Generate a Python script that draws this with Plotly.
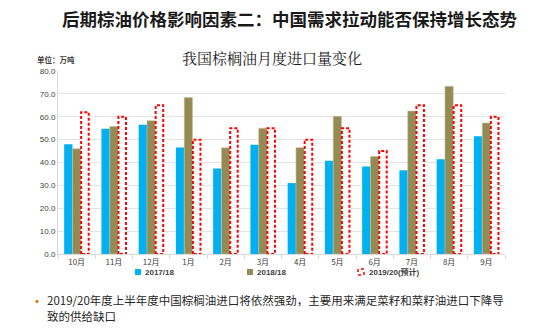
import plotly.graph_objects as go

months = ["10月", "11月", "12月", "1月", "2月", "3月", "4月", "5月", "6月", "7月", "8月", "9月"]
s2017 = [48.0, 54.7, 56.5, 46.6, 37.4, 47.8, 31.0, 40.8, 38.3, 36.6, 41.4, 51.5]
s2018 = [46.0, 55.7, 58.3, 68.4, 46.4, 55.0, 46.5, 60.2, 42.6, 62.5, 73.3, 57.3]
s2019 = [62.0, 60.0, 65.0, 50.0, 55.0, 55.0, 50.0, 55.0, 45.0, 65.0, 65.0, 60.0]
names = ["2017/18", "2018/18", "2019/20(预计)"]

BLUE = "#00B0F0"
OLIVE = "#948A54"
RED = "#FF0000"
W = 0.223
xs = list(range(len(months)))

fig = go.Figure()
fig.add_trace(go.Bar(x=xs, y=s2017, name=names[0], width=W, offset=-1.5 * W,
                     marker=dict(color=BLUE, line=dict(width=0)), showlegend=False))
fig.add_trace(go.Bar(x=xs, y=s2018, name=names[1], width=W, offset=-0.5 * W,
                     marker=dict(color=OLIVE, line=dict(color="#C9C2A0", width=0.6)), showlegend=False))

# dashed-outline bars for the forecast series
px, py = [], []
for i, v in zip(xs, s2019):
    x0, x1 = i + 0.5 * W + 0.01, i + 1.5 * W - 0.01
    px += [x0, x0, x1, x1, x0, None]
    py += [0, v, v, 0, 0, None]
fig.add_trace(go.Scatter(x=px, y=py, mode="lines", name=names[2], fill="toself",
                         fillcolor="white", line=dict(color=RED, width=2, dash="3px,2px"),
                         showlegend=False, hoverinfo="skip"))

fig.update_layout(
    width=550, height=332,
    margin=dict(l=58, r=45, t=71, b=78),
    paper_bgcolor="white", plot_bgcolor="white",
    barmode="overlay",
    font=dict(family="Noto Sans CJK SC, Liberation Sans, sans-serif", color="#404040"),
    xaxis=dict(range=[-0.5, 11.5], tickmode="array", tickvals=xs, ticktext=months,
               showgrid=False, zeroline=False, showline=True, linecolor="#D9D9D9", linewidth=1,
               ticks="", tickfont=dict(size=8, color="#404040"),
               minor=dict(tick0=0.5, dtick=1, ticks="outside", ticklen=4, tickcolor="#D9D9D9")),
    yaxis=dict(range=[0, 80], dtick=10, tickformat=".1f", showgrid=True, gridcolor="#E3E3E3",
               gridwidth=1, zeroline=False, showline=True, linecolor="#D9D9D9", linewidth=1,
               tickfont=dict(size=8, color="#404040", family="Liberation Sans, sans-serif"),
               ticklen=0, ticks=""),
)

ann = []
ann.append(dict(text="<b>后期棕油价格影响因素二：中国需求拉动能否保持增长态势</b>", x=60, y=19,
                font=dict(size=17.5, color="#1a1a1a")))
ann.append(dict(text="我国棕榈油月度进口量变化", x=272, y=58,
                font=dict(size=15, color="#1a1a1a", family="Noto Serif CJK SC, Noto Sans CJK SC, serif"),
                xanchor="center"))
ann.append(dict(text="<b>单位：万吨</b>", x=35, y=60, font=dict(size=7.5, color="#404040")))
ann.append(dict(text="•", x=28, y=300, font=dict(size=14, color="#E46C0A")))
ann.append(dict(text="2019/20年度上半年度中国棕榈油进口将依然强劲，主要用来满足菜籽和菜籽油进口下降导",
                x=45, y=300, font=dict(size=11.5, color="#262626")))
ann.append(dict(text="致的供给缺口",
                x=45, y=316, font=dict(size=11.5, color="#262626")))
# legend
leg = [(143, BLUE, names[0]), (255, OLIVE, names[1])]
for lx, col, nm in leg:
    ann.append(dict(text=f"<b>{nm}</b>", x=lx, y=272, font=dict(size=8, color="#404040",
                    family="Liberation Sans, Noto Sans CJK SC, sans-serif")))
ann.append(dict(text=f"<b>{names[2]}</b>", x=367, y=272, font=dict(size=8, color="#404040",
                family="Liberation Sans, Noto Sans CJK SC, sans-serif")))

for a in ann:
    a.setdefault("xanchor", "left")
    fig.add_annotation(xref="paper", yref="paper", showarrow=False, yanchor="middle",
                       **{k: v for k, v in a.items() if k not in ("x", "y")},
                       x=(a["x"] - 58) / 447, y=(254 - a["y"]) / 183)

shapes = [
    (135, 141, BLUE, None),
    (247, 253, OLIVE, None),
    (358, 364, "white", RED),
]
for x0, x1, fc, lc in shapes:
    fig.add_shape(type="rect", xref="paper", yref="paper",
                  x0=(x0 - 58) / 447, x1=(x1 - 58) / 447,
                  y0=(254 - 275) / 183, y1=(254 - 269) / 183,
                  fillcolor=fc, line=dict(color=lc or fc, width=1.5 if lc else 0, dash="dot" if lc else "solid"))

fig.write_html("out.html")
